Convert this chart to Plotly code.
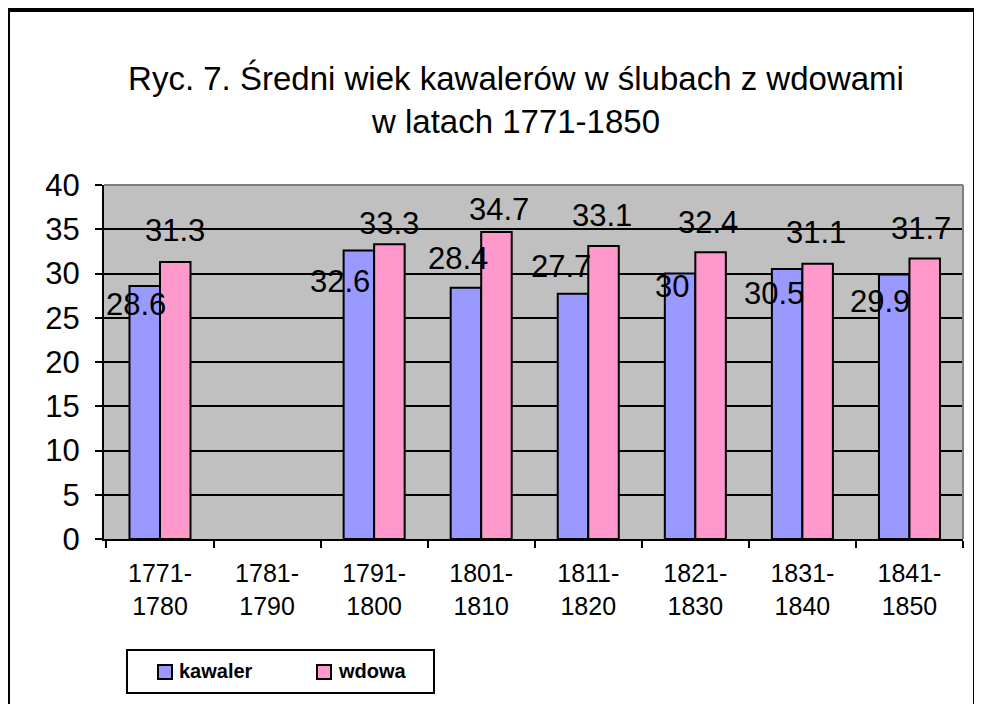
import plotly.graph_objects as go

categories = ["1771-<br>1780", "1781-<br>1790", "1791-<br>1800", "1801-<br>1810",
              "1811-<br>1820", "1821-<br>1830", "1831-<br>1840", "1841-<br>1850"]
kawaler = [28.6, None, 32.6, 28.4, 27.7, 30, 30.5, 29.9]
wdowa = [31.3, None, 33.3, 34.7, 33.1, 32.4, 31.1, 31.7]
series_names = ["kawaler", "wdowa"]
series_colors = ["#9999FF", "#FF99CC"]

# label offsets (pixels) relative to category centre / bar top, as placed in the original
kaw_dx = [-24, 0, -34, -23, -27, -23, -28, -29]
kaw_dy = [-19, 0, -31, 29, 27, -13, -24, -27]
wd_dx = [15, 0, 15, 18, 14, 13, 14, 12]
wd_dy = [32, 0, 21, 22, 31, 30, 31, 30]

FONT = "Liberation Sans, Arial, sans-serif"
W, H = 982, 704
L, R, T, B = 96, 27, 177, 173
pw, ph = W - L - R, H - T - B


def px(xp):
    return (xp - L) / pw


def py(yp):
    return (H - B - yp) / ph


fig = go.Figure()
for name, vals, col in zip(series_names, [kawaler, wdowa], series_colors):
    fig.add_trace(go.Bar(name=name, x=categories, y=vals, showlegend=False,
                         marker=dict(color=col, line=dict(color="black", width=2))))

ann = []
for vals, dxs, dys in [(kawaler, kaw_dx, kaw_dy), (wdowa, wd_dx, wd_dy)]:
    for c, v, dx, dy in zip(categories, vals, dxs, dys):
        if v is None:
            continue
        ann.append(dict(x=c, y=v, xref="x", yref="y", text=f"{v:g}", showarrow=False,
                        xshift=dx, yshift=dy, xanchor="center", yanchor="middle",
                        font=dict(family=FONT, size=31, color="black")))

shapes = [
    # plot-area border (top and right in grey)
    dict(type="line", xref="paper", yref="paper", x0=0, x1=1, y0=1, y1=1,
         line=dict(color="#808080", width=2)),
    dict(type="line", xref="paper", yref="paper", x0=1, x1=1, y0=0, y1=1,
         line=dict(color="#808080", width=2)),
    # outer chart frame
    dict(type="rect", xref="paper", yref="paper", x0=px(0), x1=px(967), y0=py(2), y1=py(720),
         line=dict(color="black", width=4), fillcolor="rgba(0,0,0,0)"),
    # legend box
    dict(type="rect", xref="paper", yref="paper", x0=px(119), x1=px(426), y0=py(642), y1=py(685),
         line=dict(color="black", width=2), fillcolor="white"),
]

# legend swatches and labels
leg_sw_x = [150, 309]
for name, col, sx in zip(series_names, series_colors, leg_sw_x):
    shapes.append(dict(type="rect", xref="paper", yref="paper",
                       x0=px(sx), x1=px(sx + 14), y0=py(657), y1=py(671),
                       line=dict(color="black", width=2), fillcolor=col))
    ann.append(dict(x=px(sx + 19), y=py(663), xref="paper", yref="paper", text=f"<b>{name}</b>",
                    showarrow=False, xanchor="left", yanchor="middle",
                    font=dict(family=FONT, size=20, color="black")))

fig.update_layout(
    width=W, height=H,
    margin=dict(l=L, r=R, t=T, b=B),
    paper_bgcolor="white",
    plot_bgcolor="#C0C0C0",
    barmode="group",
    bargap=0.43,
    bargroupgap=0,
    showlegend=False,
    font=dict(family=FONT, color="black"),
    title=dict(text="Ryc. 7. Średni wiek kawalerów w ślubach z wdowami<br>w latach 1771-1850",
               x=px(508), xref="paper", xanchor="center",
               y=1 - 82 / H, yref="container", yanchor="middle",
               font=dict(family=FONT, size=33, color="black")),
    xaxis=dict(showline=True, linecolor="black", linewidth=2, ticks="outside",
               tickson="boundaries", ticklen=7, tickwidth=2, tickcolor="black",
               ticklabelstandoff=11,
               tickfont=dict(family=FONT, size=25, color="black"), showgrid=False),
    yaxis=dict(range=[0, 40], dtick=5, showline=True, linecolor="black", linewidth=2,
               ticks="outside", ticklen=7, tickwidth=2, tickcolor="black",
               ticklabelstandoff=9,
               showgrid=True, gridcolor="black", gridwidth=2, zeroline=False,
               tickfont=dict(family=FONT, size=31, color="black")),
    annotations=ann,
    shapes=shapes,
)

fig.write_html("out.html")
